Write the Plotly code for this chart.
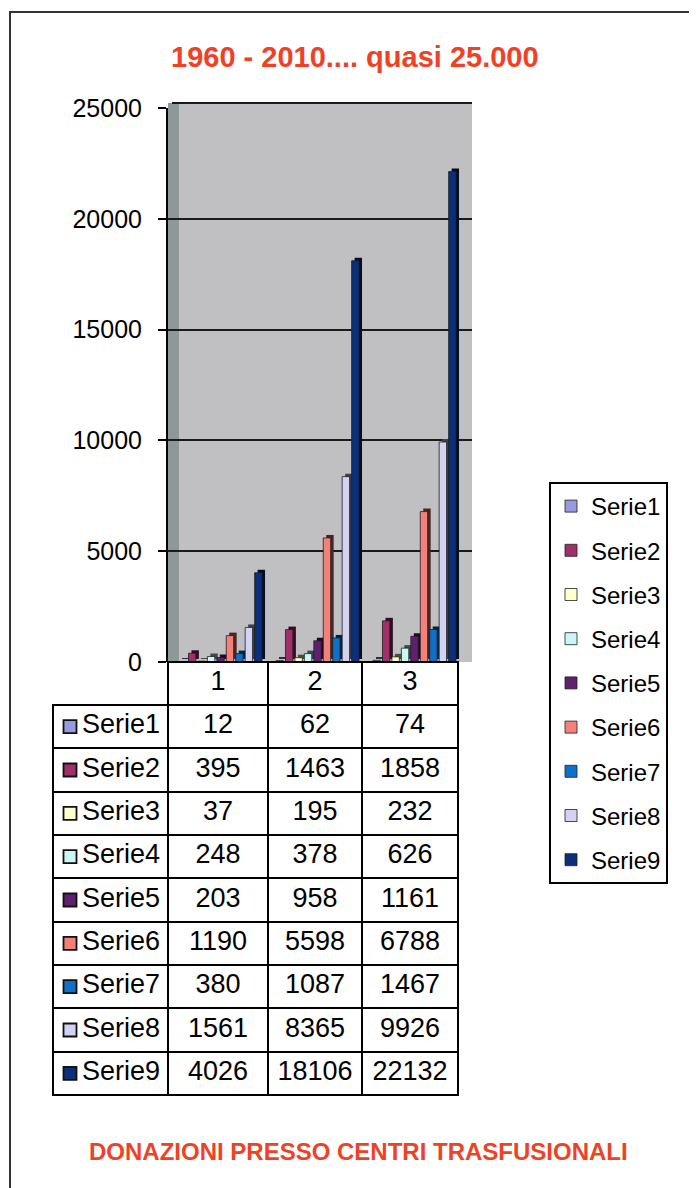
import plotly.graph_objects as go

# ---------------- data ----------------
categories = ["1", "2", "3"]
series = ["Serie1", "Serie2", "Serie3", "Serie4", "Serie5",
          "Serie6", "Serie7", "Serie8", "Serie9"]
cat1 = [12, 395, 37, 248, 203, 1190, 380, 1561, 4026]
cat2 = [62, 1463, 195, 378, 958, 5598, 1087, 8365, 18106]
cat3 = [74, 1858, 232, 626, 1161, 6788, 1467, 9926, 22132]
y_ticks = [0, 5000, 10000, 15000, 20000, 25000]

title_top = "1960 - 2010.... quasi 25.000"
title_bottom = "DONAZIONI PRESSO CENTRI TRASFUSIONALI"

colors = ["#9999E0", "#A0306A", "#FFFFCC", "#CCF6F6", "#602070",
          "#F4807A", "#1070C8", "#D2D2F2", "#0B2F7A"]

# ---------------- layout constants (pixels) ----------------
W, H = 697, 1188
OX, OY = 8, 8          # page offset of the plot div
FONT = "Arial, Liberation Sans, sans-serif"
RED = "#EE4226"

def px_x(p):
    return (p - OX) / W

def px_y(p):
    return 1 - (p - OY) / H

PLOT_L, PLOT_R, PLOT_T, PLOT_B = 168, 472, 108, 662
TAB_L, TAB_R, TAB_T, TAB_B = 53, 458, 662, 1095
HEAD_H = 43
ROW_H = (TAB_B - TAB_T - HEAD_H) / len(series)

XR0, XR1 = -0.552, 2.582
units_per_px_x = (XR1 - XR0) / (PLOT_R - PLOT_L)
units_per_px_y = 25000 / (PLOT_B - PLOT_T)
pitch = 9.45 * units_per_px_x
front_w = 7.4 * units_per_px_x
depth_x = 3.0 * units_per_px_x
depth_y = 3.0 * units_per_px_y
start = -4.5 * pitch


def darken(hexcol, f=0.3):
    h = hexcol.lstrip("#")
    r, g, b = int(h[0:2], 16), int(h[2:4], 16), int(h[4:6], 16)
    return "rgb(%d,%d,%d)" % (r * f, g * f, b * f)


fig = go.Figure()

# bars with a fake 3D depth (dark back copy drawn first)
for i, name in enumerate(series):
    vals = [cat1[i], cat2[i], cat3[i]]
    fig.add_trace(go.Bar(
        x=categories, y=vals, base=depth_y,
        offset=start + i * pitch + depth_x, width=front_w,
        marker=dict(color=darken(colors[i]), line=dict(width=0)),
        showlegend=False, legendgroup=name, hoverinfo="skip"))
    fig.add_trace(go.Bar(
        x=categories, y=vals, name=name,
        offset=start + i * pitch, width=front_w,
        marker=dict(color=colors[i], line=dict(color="#202020", width=0.8)),
        legendgroup=name, hoverinfo="skip"))

# data table under the chart
tab_values = [[s for s in series], cat1, cat2, cat3]
fig.add_trace(go.Table(
    domain=dict(x=[px_x(TAB_L), px_x(TAB_R)], y=[px_y(TAB_B + 4), px_y(TAB_T)]),
    columnwidth=[115, 100, 94, 96],
    header=dict(values=[""] + categories, height=HEAD_H,
                align="center",
                font=dict(family=FONT, size=27, color="black"),
                fill=dict(color="rgba(0,0,0,0)"),
                line=dict(color="black", width=[0, 2, 2, 2])),
    cells=dict(values=tab_values, height=ROW_H,
               align=["right", "center", "center", "center"],
               font=dict(family=FONT, size=27, color="black"),
               fill=dict(color="rgba(0,0,0,0)"),
               line=dict(color="black", width=2)),
))

# colour keys in the table's label column
fig.add_trace(go.Scatter(
    x=[17] * len(series), y=[i + 0.5 for i in range(len(series))],
    mode="markers", xaxis="x2", yaxis="y2",
    marker=dict(symbol="square", size=13, color=colors,
                line=dict(color="#111111", width=1.8)),
    showlegend=False, hoverinfo="skip"))

shapes = [
    # outer frame
    dict(type="rect", xref="paper", yref="paper",
         x0=px_x(10), x1=1.03, y0=-0.03, y1=px_y(12),
         line=dict(color="#333333", width=2), fillcolor="rgba(0,0,0,0)",
         layer="below"),
    # back wall
    dict(type="rect", xref="paper", yref="paper",
         x0=px_x(PLOT_L), x1=px_x(PLOT_R), y0=px_y(PLOT_B), y1=px_y(103),
         line=dict(width=0), fillcolor="#C0C0C2", layer="below"),
    # side wall
    dict(type="rect", xref="paper", yref="paper",
         x0=px_x(PLOT_L), x1=px_x(PLOT_L + 11), y0=px_y(PLOT_B), y1=px_y(103),
         line=dict(width=0), fillcolor="#8E9898", layer="below"),
    # top edge of the wall
    dict(type="line", xref="paper", yref="paper",
         x0=px_x(PLOT_L + 4), x1=px_x(PLOT_R), y0=px_y(103), y1=px_y(103),
         line=dict(color="#1a1a1a", width=2), layer="below"),
]

fig.update_layout(
    width=W, height=H,
    margin=dict(l=0, r=0, t=0, b=0, pad=0, autoexpand=False),
    paper_bgcolor="white", plot_bgcolor="rgba(0,0,0,0)",
    barmode="overlay",
    font=dict(family=FONT, color="black"),
    xaxis=dict(domain=[px_x(PLOT_L), px_x(PLOT_R)], range=[XR0, XR1],
               showticklabels=False, ticks="", showgrid=False,
               zeroline=False, showline=False, fixedrange=True),
    yaxis=dict(domain=[px_y(PLOT_B), px_y(PLOT_T)], range=[0, 25000],
               tickvals=y_ticks, tickformat="d",
               tickfont=dict(family=FONT, size=25, color="black"),
               ticks="outside", ticklen=8, tickwidth=2, tickcolor="black",
               ticklabelstandoff=11, automargin=False,
               showline=True, linecolor="black", linewidth=2,
               showgrid=True, gridcolor="#1a1a1a", gridwidth=2,
               zeroline=False, fixedrange=True),
    xaxis2=dict(domain=[px_x(TAB_L), px_x(PLOT_L)], range=[0, PLOT_L - TAB_L],
                anchor="y2", visible=False, fixedrange=True),
    yaxis2=dict(domain=[px_y(TAB_B), px_y(TAB_T + HEAD_H)],
                range=[len(series), 0], anchor="x2", visible=False,
                fixedrange=True),
    legend=dict(x=px_x(549), y=px_y(482), xanchor="left", yanchor="top",
                bgcolor="white", bordercolor="black", borderwidth=2,
                font=dict(family=FONT, size=24, color="black"),
                traceorder="grouped", tracegroupgap=10,
                itemwidth=30),
    shapes=shapes,
    annotations=[
        dict(text="<b>%s</b>" % title_top, xref="paper", yref="paper",
             x=px_x(355), y=px_y(57), xanchor="center", yanchor="middle",
             showarrow=False,
             font=dict(family=FONT, size=29, color=RED)),
        dict(text="<b>%s</b>" % title_bottom, xref="paper", yref="paper",
             x=px_x(359), y=px_y(1151), xanchor="center", yanchor="middle",
             showarrow=False,
             font=dict(family=FONT, size=24, color=RED)),
    ],
)

fig.write_html("out.html")
